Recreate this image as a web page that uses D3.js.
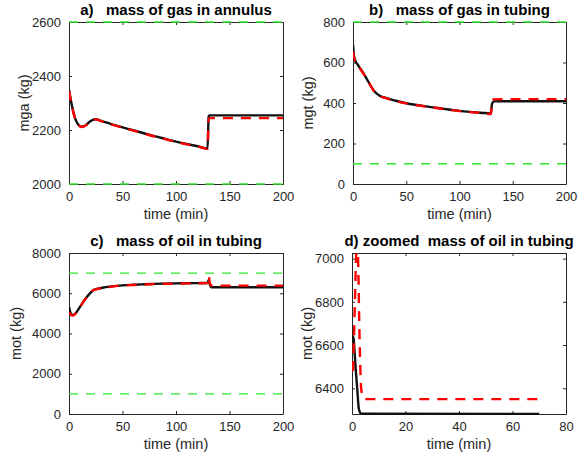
<!DOCTYPE html>
<html>
<head>
<meta charset="utf-8">
<script src="https://cdn.jsdelivr.net/npm/d3@7/dist/d3.min.js"></script>
<style>
  body { margin: 0; background: #fff; }
  svg { font-family: "Liberation Sans", Arial, Helvetica, sans-serif; }
  .title { font-weight: bold; white-space: pre; }
</style>
</head>
<body>
<div id="chart"></div>
<script>
// panel a - mass of gas in annulus
var aTime  = [0, 2, 4, 6, 8, 10, 12, 14, 16, 18, 20, 22, 24, 25, 30, 40, 50, 60, 70, 80, 90, 100, 110, 120, 129.5, 130.5, 131.5, 140, 160, 180, 200];
var aBlack = [2348, 2305, 2268, 2240, 2224, 2215, 2212, 2214, 2219, 2226, 2232, 2237, 2240, 2240, 2234, 2221, 2210, 2199, 2188, 2177, 2167, 2157, 2148, 2140, 2132, 2250, 2254, 2254, 2254, 2254, 2254];
var aRed   = [2345, 2303, 2266, 2239, 2223, 2214, 2211, 2213, 2218, 2225, 2231, 2236, 2239, 2239, 2233, 2220, 2209, 2198, 2187, 2176, 2166, 2156, 2147, 2139, 2130, 2238, 2244, 2244, 2244, 2244, 2244];
var aLimits = [2000, 2600];

// panel b - mass of gas in tubing
var bTime  = [0, 1, 2, 5, 10, 15, 20, 25, 30, 40, 50, 60, 70, 80, 90, 100, 110, 120, 129.5, 130.5, 132, 140, 160, 180, 200];
var bBlack = [688, 630, 612, 585, 545, 500, 458, 436, 426, 411, 399, 390, 382, 375, 368, 361, 356, 352, 348, 395, 408, 409, 409, 409, 409];
var bRed   = [655, 625, 611, 584, 544, 499, 457, 435, 425, 410, 398, 389, 381, 374, 367, 360, 355, 351, 346, 405, 418, 419, 419, 419, 419];
var bLimits = [100, 800];

// panel c - mass of oil in tubing
var cTime  = [0, 1, 2.5, 4, 6, 10, 15, 20, 23, 25, 30, 40, 50, 60, 70, 80, 90, 100, 110, 120, 129.5, 130.5, 131.5, 133, 140, 160, 180, 200];
var cBlack = [5330, 5100, 4940, 4920, 5000, 5300, 5700, 6020, 6170, 6200, 6260, 6340, 6390, 6420, 6445, 6465, 6480, 6490, 6498, 6505, 6510, 6650, 6450, 6300, 6300, 6300, 6300, 6300];
var cRed   = [5050, 4980, 4900, 4890, 4980, 5290, 5690, 6010, 6160, 6190, 6250, 6330, 6380, 6410, 6435, 6455, 6470, 6480, 6490, 6497, 6505, 6870, 6560, 6380, 6380, 6380, 6380, 6380];
var cLimits = [1000, 7000];

// panel d - zoomed mass of oil in tubing
var dBlackTime = [0, 0.6, 1, 1.5, 2, 2.5, 3, 3.5, 70];
var dBlack     = [6646, 6630, 6560, 6470, 6390, 6310, 6288, 6282, 6281];
var dRedTime   = [0.4, 1, 1.5, 1.9, 2.3, 2.8, 3.5, 4.5, 70];
var dRed       = [6480, 6760, 7000, 7160, 6990, 6650, 6390, 6350, 6350];

var ticksA = [2000, 2200, 2400, 2600];
var ticksB = [0, 200, 400, 600, 800];
var ticksC = [0, 2000, 4000, 6000, 8000];
var ticksD = [6400, 6600, 6800, 7000];
var timeTicks = [0, 50, 100, 150, 200];
var zoomTimeTicks = [0, 20, 40, 60, 80];

var W = 587, H = 461;
var ink = "#262626";
var fmt = d3.format("d");

var svg = d3.select("#chart").append("svg")
    .attr("width", W)
    .attr("height", H);

function zip(t, v) {
  return t.map(function(d, i) { return [d, v[i]]; });
}

function panel(opt) {
  var x = d3.scaleLinear().domain(opt.xDomain).range([opt.left, opt.right]);
  var y = d3.scaleLinear().domain(opt.yDomain).range([opt.bottom, opt.top]);
  var g = svg.append("g");

  var clipId = "clip-" + opt.id;
  g.append("clipPath").attr("id", clipId).append("rect")
    .attr("x", opt.left).attr("y", opt.top - 1)
    .attr("width", opt.right - opt.left).attr("height", opt.bottom - opt.top + 2);

  // box + inside ticks (matlab style)
  var xb = g.append("g").attr("transform", "translate(0," + opt.bottom + ")")
    .call(d3.axisBottom(x).tickValues(opt.xTicks).tickFormat(fmt).tickSizeInner(-3).tickSizeOuter(0).tickPadding(8));
  var xt = g.append("g").attr("transform", "translate(0," + opt.top + ")")
    .call(d3.axisTop(x).tickValues(opt.xTicks).tickSizeInner(-3).tickSizeOuter(0).tickFormat(""));
  var yl = g.append("g").attr("transform", "translate(" + opt.left + ",0)")
    .call(d3.axisLeft(y).tickValues(opt.yTicks).tickFormat(fmt).tickSizeInner(-3).tickSizeOuter(0).tickPadding(8));
  var yr = g.append("g").attr("transform", "translate(" + opt.right + ",0)")
    .call(d3.axisRight(y).tickValues(opt.yTicks).tickSizeInner(-3).tickSizeOuter(0).tickFormat(""));

  [xb, xt, yl, yr].forEach(function(a) {
    a.select(".domain").attr("stroke", ink).attr("stroke-width", 1);
    a.selectAll(".tick line").attr("stroke", ink);
    a.selectAll(".tick text").attr("fill", ink).style("font-size", "13px")
      .style("font-family", '"Liberation Sans", Arial, sans-serif');
  });

  var plot = g.append("g").attr("clip-path", "url(#" + clipId + ")");
  var line = d3.line()
    .x(function(d) { return x(d[0]); })
    .y(function(d) { return y(d[1]); })
    .curve(d3.curveMonotoneX);

  opt.limits.forEach(function(v) {
    plot.append("line")
      .attr("x1", opt.left).attr("x2", opt.right)
      .attr("y1", y(v)).attr("y2", y(v))
      .attr("stroke", "#2ee62e")
      .attr("stroke-width", 1.3)
      .attr("stroke-dasharray", "9,8");
  });

  plot.append("path").datum(opt.black)
    .attr("d", line).attr("fill", "none")
    .attr("stroke", "#111").attr("stroke-width", 2.4);

  plot.append("path").datum(opt.red)
    .attr("d", line).attr("fill", "none")
    .attr("stroke", "#ff0000").attr("stroke-width", 2.4)
    .attr("stroke-dasharray", "10,8");

  g.append("text").attr("class", "title")
    .attr("x", (opt.left + opt.right) / 2).attr("y", opt.top - 7)
    .attr("text-anchor", "middle").attr("fill", "#000")
    .style("font-size", "15px")
    .text(opt.title);

  g.append("text")
    .attr("x", (opt.left + opt.right) / 2).attr("y", opt.bottom + 35)
    .attr("text-anchor", "middle").attr("fill", ink)
    .style("font-size", "14.5px")
    .text("time (min)");

  g.append("text")
    .attr("transform", "translate(" + opt.ylabX + "," + ((opt.top + opt.bottom) / 2) + ") rotate(-90)")
    .attr("text-anchor", "middle").attr("fill", ink)
    .style("font-size", "14.5px")
    .text(opt.ylabel);
}

panel({
  id: "a", left: 69, right: 283, top: 22, bottom: 184,
  xDomain: [0, 200], yDomain: [2000, 2600], xTicks: timeTicks, yTicks: ticksA,
  black: zip(aTime, aBlack), red: zip(aTime, aRed), limits: aLimits,
  title: "a)   mass of gas in annulus", ylabel: "mga (kg)", ylabX: 29
});

panel({
  id: "b", left: 353, right: 566, top: 22, bottom: 184,
  xDomain: [0, 200], yDomain: [0, 800], xTicks: timeTicks, yTicks: ticksB,
  black: zip(bTime, bBlack), red: zip(bTime, bRed), limits: bLimits,
  title: "b)   mass of gas in tubing", ylabel: "mgt (kg)", ylabX: 313
});

panel({
  id: "c", left: 69, right: 283, top: 253, bottom: 414,
  xDomain: [0, 200], yDomain: [0, 8000], xTicks: timeTicks, yTicks: ticksC,
  black: zip(cTime, cBlack), red: zip(cTime, cRed), limits: cLimits,
  title: "c)   mass of oil in tubing", ylabel: "mot (kg)", ylabX: 21
});

panel({
  id: "d", left: 352, right: 566, top: 253, bottom: 414,
  xDomain: [0, 80], yDomain: [6281, 7026], xTicks: zoomTimeTicks, yTicks: ticksD,
  black: zip(dBlackTime, dBlack), red: zip(dRedTime, dRed), limits: [],
  title: "d) zoomed  mass of oil in tubing", ylabel: "mot (kg)", ylabX: 312
});
</script>
</body>
</html>
